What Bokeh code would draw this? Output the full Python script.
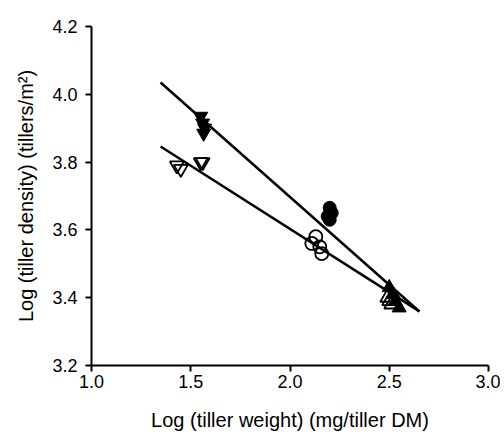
from bokeh.plotting import figure
from bokeh.embed import file_html
from bokeh.resources import INLINE
from bokeh.models import Range1d, FixedTicker, NumeralTickFormatter
import numpy as np

# Data
filled_down_x = [1.55, 1.56, 1.57, 1.565]
filled_down_y = [3.935, 3.915, 3.90, 3.885]
open_down_x = [1.43, 1.45, 1.55, 1.56]
open_down_y = [3.79, 3.78, 3.80, 3.80]
filled_circle_x = [2.20, 2.21, 2.19, 2.20]
filled_circle_y = [3.665, 3.65, 3.64, 3.63]
open_circle_x = [2.13, 2.11, 2.15, 2.16]
open_circle_y = [3.58, 3.56, 3.55, 3.53]
filled_up_x = [2.50, 2.52, 2.53, 2.55]
filled_up_y = [3.43, 3.41, 3.39, 3.37]
open_up_x = [2.49, 2.51, 2.50]
open_up_y = [3.40, 3.38, 3.39]

# regression lines: slope, intercept, x range
fit_x_range = [1.348, 2.652]
upper_slope, upper_intercept = -0.518, 4.733
lower_slope, lower_intercept = -0.373, 4.349

x_ticks = [1.0, 1.5, 2.0, 2.5, 3.0]
y_ticks = [3.2, 3.4, 3.6, 3.8, 4.0, 4.2]

p = figure(width=500, height=441, output_backend="svg", toolbar_location=None,
           x_range=Range1d(1.0, 3.0), y_range=Range1d(3.2, 4.2),
           min_border_left=91, min_border_right=12, min_border_top=26, min_border_bottom=76)
p.outline_line_color = None
p.xgrid.visible = False
p.ygrid.visible = False
p.background_fill_color = "white"

fx = np.array(fit_x_range)
p.line(fx, upper_slope * fx + upper_intercept, line_color="black", line_width=2.5)
p.line(fx, lower_slope * fx + lower_intercept, line_color="black", line_width=2.5)

ms = 14
p.scatter(open_down_x, open_down_y, marker="inverted_triangle", size=ms,
          fill_color="white", fill_alpha=0, line_color="black", line_width=1.8)
p.scatter(filled_down_x, filled_down_y, marker="inverted_triangle", size=ms,
          fill_color="black", line_color="black", line_width=1)
p.scatter(open_circle_x, open_circle_y, marker="circle", size=13,
          fill_color="white", fill_alpha=0, line_color="black", line_width=1.8)
p.scatter(filled_circle_x, filled_circle_y, marker="circle", size=13,
          fill_color="black", line_color="black", line_width=1)
p.scatter(open_up_x, open_up_y, marker="triangle", size=ms,
          fill_color="white", fill_alpha=0, line_color="black", line_width=1.8)
p.scatter(filled_up_x, filled_up_y, marker="triangle", size=ms,
          fill_color="black", line_color="black", line_width=1)

font = "Liberation Sans"
for ax in (p.xaxis[0], p.yaxis[0]):
    ax.axis_line_color = "black"
    ax.axis_line_width = 2
    ax.major_tick_line_width = 2
    ax.major_tick_in = 0
    ax.major_tick_out = 6
    ax.minor_tick_line_color = None
    ax.major_label_text_font = font
    ax.major_label_text_font_size = "18px"
    ax.major_label_text_color = "black"
    ax.axis_label_text_font = font
    ax.axis_label_text_font_size = "20px"
    ax.axis_label_text_font_style = "normal"
    ax.axis_label_text_color = "black"
    ax.formatter = NumeralTickFormatter(format="0.0")

p.xaxis[0].ticker = FixedTicker(ticks=x_ticks)
p.yaxis[0].ticker = FixedTicker(ticks=y_ticks)
p.xaxis[0].axis_label = "Log (tiller weight) (mg/tiller DM)"
p.yaxis[0].axis_label = "Log (tiller density) (tillers/m²)"
p.xaxis[0].major_label_standoff = 3
p.xaxis[0].axis_label_standoff = 18
p.yaxis[0].major_label_standoff = 8
p.yaxis[0].axis_label_standoff = 12

open("out.html", "w").write(file_html(p, INLINE))
